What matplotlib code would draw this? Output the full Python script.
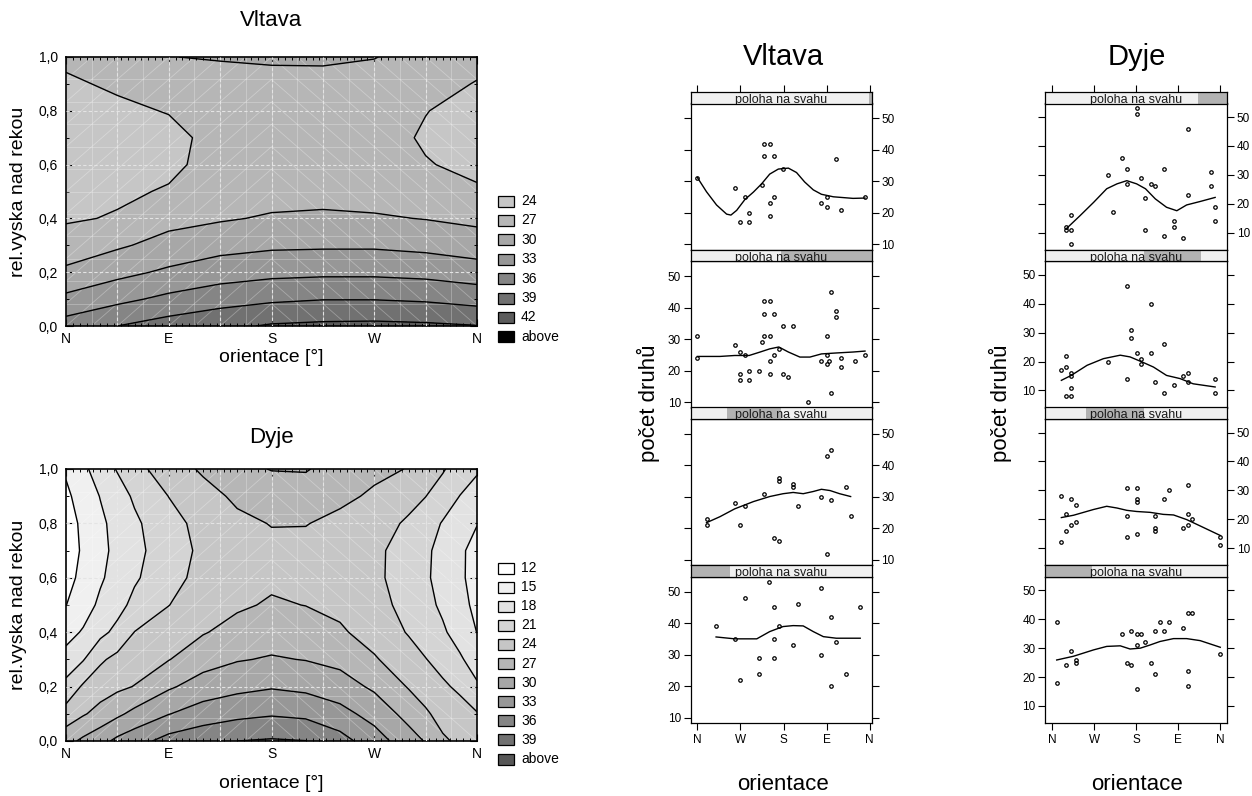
import numpy as np
import matplotlib
matplotlib.use("Agg")
import matplotlib.pyplot as plt
from matplotlib.patches import Rectangle
from matplotlib.collections import LineCollection
from matplotlib.ticker import MultipleLocator

plt.rcParams['font.family'] = ['Liberation Sans', 'DejaVu Sans']

# ---------------- contour data ----------------
height = [0.0, 0.1, 0.2, 0.3, 0.4, 0.5, 0.6, 0.7, 0.8, 0.9, 1.0]

orient_vltava = [0, 45, 90, 135, 180, 225, 270, 315, 360]
z_vltava = [
    [34.3, 36.0, 37.3, 38.3, 39.3, 39.6, 39.7, 39.5, 39.1],
    [30.7, 32.25, 33.7, 34.8, 35.5, 35.9, 35.9, 35.6, 34.9],
    [27.6, 29.16, 30.5, 31.6, 32.2, 32.4, 32.4, 32.1, 31.4],
    [25.2, 26.6, 28.0, 29.0, 29.5, 29.6, 29.6, 29.2, 28.5],
    [23.7, 24.2, 26.1, 26.7, 27.3, 27.5, 27.3, 26.9, 26.3],
    [23.0, 23.6, 24.2, 25.6, 25.9, 26.0, 25.8, 25.4, 24.2],
    [22.7, 23.2, 23.5, 24.9, 25.2, 25.3, 25.0, 24.1, 23.6],
    [22.7, 23.2, 23.4, 24.7, 25.0, 25.1, 24.7, 23.8, 23.2],
    [23.0, 23.6, 24.1, 25.0, 25.3, 25.4, 24.9, 24.05, 23.4],
    [23.7, 24.3, 25.6, 25.9, 26.1, 26.2, 25.8, 24.7, 23.9],
    [24.4, 25.0, 26.95, 27.2, 27.4, 27.4, 27.1, 25.8, 24.6],
]
levels_vltava = [24, 27, 30, 33, 36, 39, 42]
labels_vltava = ['24', '27', '30', '33', '36', '39', '42', 'above']
colors_vltava = ['#c6c6c6', '#b6b6b6', '#a7a7a7', '#979797', '#858585',
                 '#717171', '#5c5c5c', '#000000']

orient_dyje = [0, 15, 30, 45, 60, 90, 120, 150, 180, 210, 240, 270, 300, 315, 330, 345, 360]
z_dyje = [
    [26.0, 27.6, 29.0, 30.7, 31.8, 34.1, 35.1, 36.0, 36.3, 36.05, 34.1, 31.4, 28.3, 26.8, 24.4, 23.5, 23.2],
    [22.2, 23.7, 25.0, 26.4, 27.8, 29.9, 31.4, 32.2, 32.7, 32.3, 31.0, 28.9, 26.0, 24.4, 23.0, 22.3, 21.2],
    [18.9, 21.4, 22.65, 23.4, 24.1, 26.6, 28.3, 29.2, 29.75, 29.3, 28.3, 26.5, 23.8, 22.7, 21.5, 20.4, 18.4],
    [16.1, 17.8, 20.55, 21.8, 22.5, 23.9, 25.8, 26.8, 27.25, 26.9, 26.2, 24.3, 22.2, 21.1, 19.9, 18.4, 16.6],
    [13.9, 15.3, 17.2, 18.8, 21.05, 22.4, 23.8, 25.0, 25.7, 25.4, 24.4, 22.8, 20.8, 19.6, 18.4, 16.8, 14.95],
    [11.95, 13.6, 15.6, 17.0, 18.8, 20.95, 22.6, 23.6, 24.3, 23.95, 23.3, 21.9, 20.2, 18.8, 17.5, 15.9, 14.3],
    [11.0, 12.8, 14.6, 16.2, 17.6, 20.0, 21.9, 23.1, 23.5, 23.3, 22.7, 21.5, 19.9, 18.4, 17.0, 15.5, 13.9],
    [10.5, 12.4, 14.2, 15.8, 17.2, 19.6, 21.6, 23.0, 23.4, 23.2, 22.6, 21.5, 20.0, 18.5, 17.1, 15.5, 14.0],
    [10.7, 12.6, 14.4, 16.0, 17.5, 19.9, 22.0, 23.4, 24.1, 24.1, 23.3, 22.2, 20.6, 19.3, 17.8, 16.3, 15.1],
    [11.4, 13.3, 15.1, 16.8, 18.4, 21.05, 23.0, 24.5, 25.6, 25.6, 24.6, 23.6, 21.9, 21.05, 19.5, 17.95, 17.0],
    [12.4, 14.3, 16.5, 18.2, 20.0, 22.6, 24.4, 26.3, 27.1, 27.2, 25.8, 24.6, 23.9, 22.6, 21.3, 19.5, 18.3],
]
levels_dyje = [12, 15, 18, 21, 24, 27, 30, 33, 36, 39]
labels_dyje = ['12', '15', '18', '21', '24', '27', '30', '33', '36', '39', 'above']
colors_dyje = ['#ffffff', '#f0f0f0', '#e2e2e2', '#d4d4d4', '#c6c6c6', '#b6b6b6',
               '#a7a7a7', '#979797', '#858585', '#717171', '#575757']

compass_contour = ['N', 'E', 'S', 'W', 'N']
compass_lattice = ['N', 'W', 'S', 'E', 'N']

# ---------------- lattice data (top panel first) ----------------
vlt_px = [
    [0, 78, 89, 108, 108, 99, 134, 140, 151, 140, 159, 159, 151, 151, 179, 259, 270, 270, 290, 299, 350],
    [0, 0, 78, 89, 89, 89, 108, 108, 99, 129, 134, 140, 151, 140, 151, 140, 159, 159, 151, 151, 179, 199,
     170, 179, 190, 230, 270, 270, 259, 270, 275, 280, 290, 290, 299, 299, 280, 330, 350],
    [19, 19, 78, 99, 89, 140, 170, 170, 199, 199, 210, 159, 170, 259, 270, 280, 280, 310, 320, 270],
    [39, 78, 99, 89, 129, 129, 149, 159, 159, 159, 170, 199, 210, 259, 259, 280, 290, 280, 310, 340],
]
vlt_py = [
    [31, 28, 17, 17, 20, 25, 29, 42, 42, 38, 38, 25, 23, 19, 34, 23, 25, 22, 37, 21, 25],
    [31, 24, 28, 26, 19, 17, 20, 17, 25, 20, 29, 31, 31, 42, 42, 38, 38, 25, 23, 19, 34, 34,
     27, 19, 18, 10, 31, 25, 23, 22, 23, 45, 39, 37, 24, 21, 13, 23, 25],
    [23, 21, 28, 27, 21, 31, 36, 35, 34, 33, 27, 17, 16, 30, 43, 45, 29, 33, 24, 12],
    [39, 35, 48, 22, 29, 24, 53, 45, 35, 29, 39, 33, 46, 51, 30, 42, 34, 20, 24, 45],
]
vlt_lx = [
    [0, 19, 40, 61, 70, 82, 99, 117, 134, 151, 169, 190, 207, 224, 242, 259, 284, 325, 350],
    [0, 47, 78, 108, 131, 151, 170, 190, 214, 235, 259, 290, 325, 350],
    [19, 47, 78, 117, 151, 179, 200, 221, 242, 259, 277, 297, 320],
    [39, 78, 124, 151, 179, 200, 221, 242, 263, 290, 340],
]
vlt_ly = [
    [31.2, 26.7, 22.5, 19.6, 19.3, 20.8, 24.2, 26.6, 29.2, 32.3, 33.9, 34.2, 32.8, 29.8, 27.3, 25.9, 25.1, 24.6, 24.7],
    [24.5, 24.5, 24.8, 24.8, 25.9, 26.9, 27.5, 25.9, 24.3, 24.3, 25.3, 25.6, 25.9, 26.2],
    [21.8, 23.7, 26.2, 28.5, 30.1, 31.0, 31.4, 31.0, 31.7, 32.4, 32.0, 31.0, 30.1],
    [35.6, 35.0, 35.0, 37.3, 38.9, 39.2, 39.1, 37.3, 35.7, 35.2, 35.2],
]
vlt_shingle = [(0.987, 1.0), (0.5, 1.0), (0.2, 0.5), (0.0, 0.217)]

dyj_px = [
    [30, 30, 41, 41, 41, 120, 130, 150, 160, 160, 181, 181, 190, 200, 200, 211, 220, 240, 240, 260, 260,
     280, 290, 290, 340, 340, 349, 349],
    [20, 30, 30, 41, 41, 41, 30, 41, 120, 160, 160, 170, 170, 181, 190, 190, 211, 211, 220, 240, 240,
     260, 280, 290, 290, 349, 349],
    [20, 20, 30, 30, 41, 41, 51, 51, 160, 160, 160, 181, 181, 181, 181, 220, 220, 220, 240, 250, 280,
     290, 290, 290, 300, 360, 360],
    [10, 10, 30, 41, 51, 51, 150, 160, 170, 170, 181, 181, 190, 181, 200, 211, 220, 220, 230, 240, 250,
     280, 290, 300, 290, 290, 360],
]
dyj_py = [
    [12, 11, 16, 11, 6, 30, 17, 36, 32, 27, 53, 51, 29, 22, 11, 27, 26, 32, 9, 14, 12,
     8, 46, 23, 31, 26, 19, 14],
    [17, 22, 18, 16, 15, 11, 8, 8, 20, 46, 14, 31, 28, 23, 19, 21, 40, 23, 13, 26, 9,
     12, 15, 16, 13, 14, 9],
    [28, 12, 22, 16, 27, 18, 25, 19, 31, 21, 14, 31, 27, 26, 15, 21, 17, 16, 27, 30, 17,
     32, 22, 18, 20, 14, 11],
    [39, 18, 24, 29, 26, 25, 35, 25, 36, 24, 35, 31, 35, 16, 32, 25, 21, 36, 39, 36, 39,
     37, 42, 42, 22, 17, 28],
]
dyj_lx = [
    [30, 60, 89, 117, 139, 160, 181, 200, 221, 245, 267, 288, 317, 349],
    [20, 41, 75, 110, 146, 167, 192, 217, 245, 274, 302, 349],
    [20, 46, 89, 117, 139, 160, 181, 210, 238, 260, 288, 317, 360],
    [10, 46, 89, 117, 146, 167, 189, 210, 231, 260, 288, 317, 360],
]
dyj_ly = [
    [11.3, 15.9, 20.5, 25.2, 26.9, 28.0, 26.9, 25.2, 21.7, 18.8, 17.6, 19.6, 20.8, 22.2],
    [13.5, 15.2, 18.7, 21.0, 22.2, 21.6, 19.9, 18.1, 15.2, 14.1, 12.3, 11.2],
    [20.6, 21.4, 23.4, 24.5, 23.9, 23.1, 22.7, 22.4, 21.7, 21.5, 19.9, 17.7, 14.4],
    [25.9, 27.2, 29.4, 30.6, 30.8, 29.7, 30.0, 31.1, 32.3, 33.3, 33.3, 32.6, 30.3],
]
dyj_shingle = [(0.84, 1.0), (0.543, 0.855), (0.224, 0.545), (0.0, 0.255)]

# ---------------- figure ----------------
W, H = 1252, 796
fig = plt.figure(figsize=(W / 100, H / 100), dpi=100)


def px_axes(x0, y0, x1, y1):
    return fig.add_axes([x0 / W, 1 - y1 / H, (x1 - x0) / W, (y1 - y0) / H])


def contour_panel(box, orient, zrows, levels, colors, labels, title, title_y, xlab_y,
                  leg_y0, leg_dy):
    ax = px_axes(*box)
    Z = np.array(zrows)
    fill_levels = [-1000] + list(levels) + [1000]
    ax.contourf(orient, height, Z, levels=fill_levels, colors=colors, zorder=1)
    # light mesh texture
    segs = []
    xs = np.arange(0, 360.01, 22.5)
    ys = np.linspace(0, 1, 13)
    for x in xs:
        segs.append([(x, 0), (x, 1)])
    for y in ys:
        segs.append([(0, y), (360, y)])
    for i in range(len(xs) - 1):
        for j in range(len(ys) - 1):
            if xs[i] < 180:
                segs.append([(xs[i], ys[j]), (xs[i + 1], ys[j + 1])])
            else:
                segs.append([(xs[i], ys[j + 1]), (xs[i + 1], ys[j])])
    ax.add_collection(LineCollection(segs, colors='white', linewidths=0.6, alpha=0.3, zorder=2))
    # dashed grid
    for x in range(45, 360, 45):
        ax.plot([x, x], [0, 1], color='#e4e4e4', lw=0.8, ls=(0, (3, 2)), zorder=3)
    for y in [0.2, 0.4, 0.6, 0.8]:
        ax.plot([0, 360], [y, y], color='#e4e4e4', lw=0.8, ls=(0, (3, 2)), zorder=3)
    ax.contour(orient, height, Z, levels=levels, colors='black', linewidths=1.0, zorder=4)
    ax.set_xlim(0, 360)
    ax.set_ylim(0, 1)
    ax.set_xticks([0, 90, 180, 270, 360])
    ax.set_xticklabels(compass_contour)
    ax.xaxis.set_minor_locator(MultipleLocator(6))
    ax.set_yticks([0, 0.2, 0.4, 0.6, 0.8, 1.0])
    ax.set_yticklabels(['0,0', '0,2', '0,4', '0,6', '0,8', '1,0'])
    ax.yaxis.set_minor_locator(MultipleLocator(0.1))
    ax.tick_params(which='both', direction='in', top=True, right=True, labelsize=10)
    ax.tick_params(which='major', length=5, width=0.8)
    ax.tick_params(which='minor', length=2.5, width=0.7)
    ax.tick_params(axis='x', pad=4)
    ax.tick_params(axis='y', pad=6)
    for s in ax.spines.values():
        s.set_linewidth(1.2)
    cx = (box[0] + box[2]) / 2
    fig.text(cx / W, 1 - title_y / H, title, fontsize=16, ha='center', va='center')
    fig.text(cx / W, 1 - xlab_y / H, 'orientace [°]', fontsize=14, ha='center', va='center')
    ax.set_ylabel('rel.vyska nad rekou', fontsize=14, labelpad=8)
    # legend
    for k, (c, lab) in enumerate(zip(colors, labels)):
        yc = leg_y0 + k * leg_dy
        fig.add_artist(Rectangle((498 / W, 1 - (yc + 5.5) / H), 16 / W, 11 / H,
                                 facecolor=c, edgecolor='black', linewidth=0.9,
                                 transform=fig.transFigure))
        fig.text(521 / W, 1 - yc / H, lab, fontsize=10, va='center', ha='left')
    return ax


contour_panel((66, 57, 477, 326), orient_vltava, z_vltava, levels_vltava, colors_vltava,
              labels_vltava, 'Vltava', 21, 358, 201, 19.4)
contour_panel((66, 469, 477, 741), orient_dyje, z_dyje, levels_dyje, colors_dyje,
              labels_dyje, 'Dyje', 438, 784, 568, 19.1)


def lattice_column(x0, x1, xlim, ylim, px, py, lx, ly, shingle, title, cx, ylab_x):
    strip_h = 11.5
    panel_h = 146.25
    top = 92
    for i in range(4):
        sy0 = top + i * (strip_h + panel_h)
        sy1 = sy0 + strip_h
        py1 = sy1 + panel_h
        ax = px_axes(x0, sy1, x1, py1)
        ax.plot(lx[i], ly[i], color='black', lw=1.0, zorder=3)
        ax.plot(px[i], py[i], 'o', ms=2.5, mfc='none', mec='black', mew=0.9, zorder=4)
        ax.set_xlim(*xlim)
        ax.set_ylim(*ylim)
        ax.set_yticks([10, 20, 30, 40, 50])
        right_lab = (i % 2 == 0)
        ax.tick_params(axis='y', direction='out', length=5, width=0.8, labelsize=8.5,
                       left=True, right=True, labelleft=not right_lab, labelright=right_lab, pad=2)
        if i == 3:
            ax.set_xticks([0, 90, 180, 270, 360])
            ax.set_xticklabels(compass_lattice)
            ax.tick_params(axis='x', direction='out', length=5, width=0.8, labelsize=8.5, pad=3)
        else:
            ax.set_xticks([])
        for s in ax.spines.values():
            s.set_linewidth(0.9)
        # strip
        sax = px_axes(x0, sy0, x1, sy1)
        sax.set_facecolor('#f0f0f0')
        sax.set_xlim(*xlim)
        sax.set_ylim(0, 1)
        lo, hi = shingle[i]
        sax.add_patch(Rectangle((lo, 0), hi - lo, 1, transform=sax.transAxes,
                                facecolor='#b2b2b2', edgecolor='none'))
        sax.text(0.5, 0.06, 'poloha na svahu', transform=sax.transAxes, ha='center',
                 va='baseline', fontsize=9, color='#1a1a1a', clip_on=True)
        sax.set_yticks([])
        if i == 0:
            sax.set_xticks([0, 90, 180, 270, 360])
            sax.tick_params(axis='x', direction='out', length=5, width=0.8,
                            bottom=False, top=True, labelbottom=False, labeltop=False)
        else:
            sax.set_xticks([])
        for s in sax.spines.values():
            s.set_linewidth(0.9)
    fig.text(cx / W, 1 - 57 / H, title, fontsize=21, ha='center', va='center')
    fig.text(cx / W, 1 - 785 / H, 'orientace', fontsize=16, ha='center', va='center')
    fig.text(ylab_x / W, 1 - 403 / H, 'počet druhů', fontsize=16, ha='center', va='center',
             rotation=90)


lattice_column(690.7, 871.7, (-14, 364), (8.3, 54.7), vlt_px, vlt_py, vlt_lx, vlt_ly,
               vlt_shingle, 'Vltava', 783, 648)
lattice_column(1045.3, 1227, (-14.4, 374.4), (4.1, 54.7), dyj_px, dyj_py, dyj_lx, dyj_ly,
               dyj_shingle, 'Dyje', 1137, 1000)

fig.savefig('out.png', dpi=100)
